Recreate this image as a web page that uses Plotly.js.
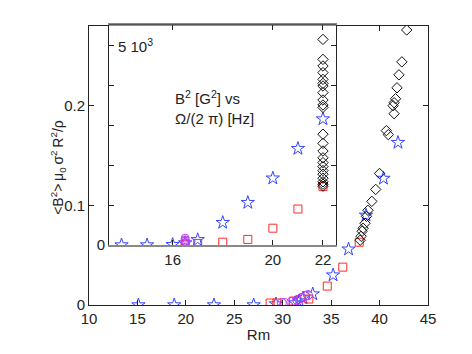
<!DOCTYPE html>
<html>
<head>
<meta charset="utf-8">
<script src="https://cdn.plot.ly/plotly-3.0.1.min.js"></script>
<style>
  body { margin: 0; background: #fff; }
  #wrap { position: relative; width: 472px; height: 354px; }
  #main, #inset { position: absolute; left: 0; top: 0; width: 472px; height: 354px; }
</style>
</head>
<body>
<div id="wrap">
  <div id="main"></div>
  <div id="inset"></div>
</div>
<script>
// main panel: normalised <B^2> vs Rm
const mainStarRm = [15.1, 18.8, 22.9, 27.0, 29.3, 31.3, 31.7, 32.1, 33.1, 35.2, 36.8, 38.6, 40.4, 41.9];
const mainStarB = [0, 0, 0, 0, 0.001, 0.002, 0.004, 0.007, 0.011, 0.030, 0.056, 0.090, 0.127, 0.163];

const mainSquareRm = [28.7, 29.4, 31.1, 32.7, 34.6, 36.2, 37.9];
const mainSquareB = [0.002, 0.002, 0.004, 0.006, 0.019, 0.038, 0.063];

const mainCircleRm = [29.9, 30.2, 30.9, 31.5, 31.9, 32.3, 32.6];
const mainCircleB = [0.002, 0.002, 0.003, 0.005, 0.007, 0.009, 0.010];

const mainDiamondRm = [38.0, 38.1, 38.2, 38.3, 38.5, 38.65, 38.8, 39.2, 39.6, 40.0, 40.7, 40.9, 41.5, 41.4, 41.5, 41.65, 41.8, 42.0, 42.3, 42.8];
const mainDiamondB = [0.065, 0.069, 0.074, 0.077, 0.082, 0.089, 0.095, 0.104, 0.116, 0.132, 0.175, 0.171, 0.192, 0.200, 0.203, 0.207, 0.218, 0.231, 0.244, 0.276];

// inset: B^2 (units of 10^3 G^2) vs rotation frequency (Hz)
const insetStarF = [13.96, 14.98, 16.0, 16.5, 17.0, 18.0, 19.0, 20.0, 21.0, 22.0];
const insetStarB = [0, 0, 0.01, 0.05, 0.13, 0.56, 1.06, 1.67, 2.41, 3.15];

const insetSquareF = [16.5, 17.0, 18.0, 19.0, 20.0, 21.0, 22.0];
const insetSquareB = [0.02, 0.04, 0.07, 0.14, 0.42, 0.90, 1.46];

const insetCircleF = [16.5, 16.5, 16.5, 16.5, 16.5];
const insetCircleB = [0.03, 0.06, 0.10, 0.13, 0.17];

const insetDiamondF = [22, 22, 22, 22, 22, 22, 22, 22, 22, 22, 22, 22, 22, 22, 22, 22, 22, 22, 22, 22, 22, 22, 22];
const insetDiamondB = [5.14, 4.64, 4.475, 4.31, 4.14, 4.04, 3.975, 3.81, 3.625, 3.5, 3.44, 2.77, 2.54, 2.35, 2.18, 2.06, 1.96, 1.86, 1.77, 1.67, 1.58, 1.52, 1.47];

const mainXTicks = [10, 15, 20, 25, 30, 35, 40, 45];
const mainYTicks = [0, 0.1, 0.2];
const mainYLabels = ['0', '0.1', '0.2'];
const insetXTicks = [16, 20, 22];
const insetYTicks = [0, 1, 2, 3, 4, 5];
const insetYLabels = ['0', '', '', '', '', ''];

const BLUE = '#3344ff';
const RED = '#ff2a2a';
const MAGENTA = '#c23cf0';
const BLACK = '#111111';
const FONT = { family: 'Liberation Sans, Arial, sans-serif', size: 15, color: '#222' };

function mk(x, y, symbol, color, size) {
  return {
    x: x, y: y, type: 'scatter', mode: 'markers',
    marker: { symbol: symbol, size: size, color: color, line: { color: color, width: 1 } },
    hoverinfo: 'skip'
  };
}

function axisBase() {
  return {
    showgrid: false, zeroline: false, showline: true, linecolor: '#222', linewidth: 1,
    mirror: 'ticks', ticks: 'inside', ticklen: 5, tickcolor: '#222', tickwidth: 1,
    tickfont: FONT
  };
}

// ----- main panel -----
const mx = axisBase();
Object.assign(mx, { range: [10, 45], tickvals: mainXTicks, title: { text: 'Rm', font: FONT, standoff: 3 } });
const my = axisBase();
Object.assign(my, { range: [0, 0.28], tickvals: mainYTicks, ticktext: mainYLabels });

Plotly.newPlot('main', [
  mk(mainStarRm, mainStarB, 'star-open', BLUE, 10),
  mk(mainSquareRm, mainSquareB, 'square-open', RED, 8),
  mk(mainCircleRm, mainCircleB, 'circle-open', MAGENTA, 9),
  mk(mainDiamondRm, mainDiamondB, 'diamond-open', BLACK, 8)
], {
  width: 472, height: 354,
  margin: { l: 89, r: 44, t: 26, b: 49 },
  paper_bgcolor: '#fff', plot_bgcolor: '#fff',
  font: FONT, showlegend: false,
  xaxis: mx, yaxis: my,
  annotations: [{
    xref: 'paper', yref: 'paper', x: -0.127, y: 0.495, showarrow: false,
    textangle: -90, font: { family: FONT.family, size: 14, color: '#222' },
    text: '&lt;B<sup>2</sup>&gt;\u2009μ<sub>0</sub>\u2009σ<sup>2</sup>\u2009R<sup>2</sup>/ρ'
  }]
}, { displayModeBar: false, staticPlot: true });

// ----- inset -----
const ix = axisBase();
Object.assign(ix, { range: [13.46, 22.52], tickvals: insetXTicks, linecolor: '#888', linewidth: 2 });
const iy = axisBase();
Object.assign(iy, { range: [0, 5.5], tickvals: insetYTicks, ticktext: insetYLabels });

Plotly.newPlot('inset', [
  mk(insetStarF, insetStarB, 'star-open', BLUE, 10),
  mk(insetSquareF, insetSquareB, 'square-open', RED, 8),
  mk(insetCircleF, insetCircleB, 'circle-open', MAGENTA, 8),
  mk(insetDiamondF, insetDiamondB, 'diamond-open', BLACK, 8)
], {
  width: 472, height: 354,
  margin: { l: 109, r: 136, t: 25, b: 109 },
  paper_bgcolor: 'rgba(0,0,0,0)', plot_bgcolor: '#fff',
  font: FONT, showlegend: false,
  xaxis: ix, yaxis: iy,
  shapes: [{
    type: 'line', xref: 'paper', yref: 'paper', x0: 0, x1: 1, y0: 1, y1: 1,
    line: { color: '#222', width: 1 }
  }],
  annotations: [
    { x: 13.73, y: 5, xanchor: 'left', yanchor: 'middle', showarrow: false, font: FONT,
      text: '5 10<sup>3</sup>' },
    { x: 16.01, y: 3.43, xanchor: 'left', yanchor: 'middle', align: 'left', showarrow: false, font: FONT,
      text: 'B<sup>2</sup> [G<sup>2</sup>] vs<br>Ω/(2 π) [Hz]' }
  ]
}, { displayModeBar: false, staticPlot: true });
</script>
</body>
</html>
